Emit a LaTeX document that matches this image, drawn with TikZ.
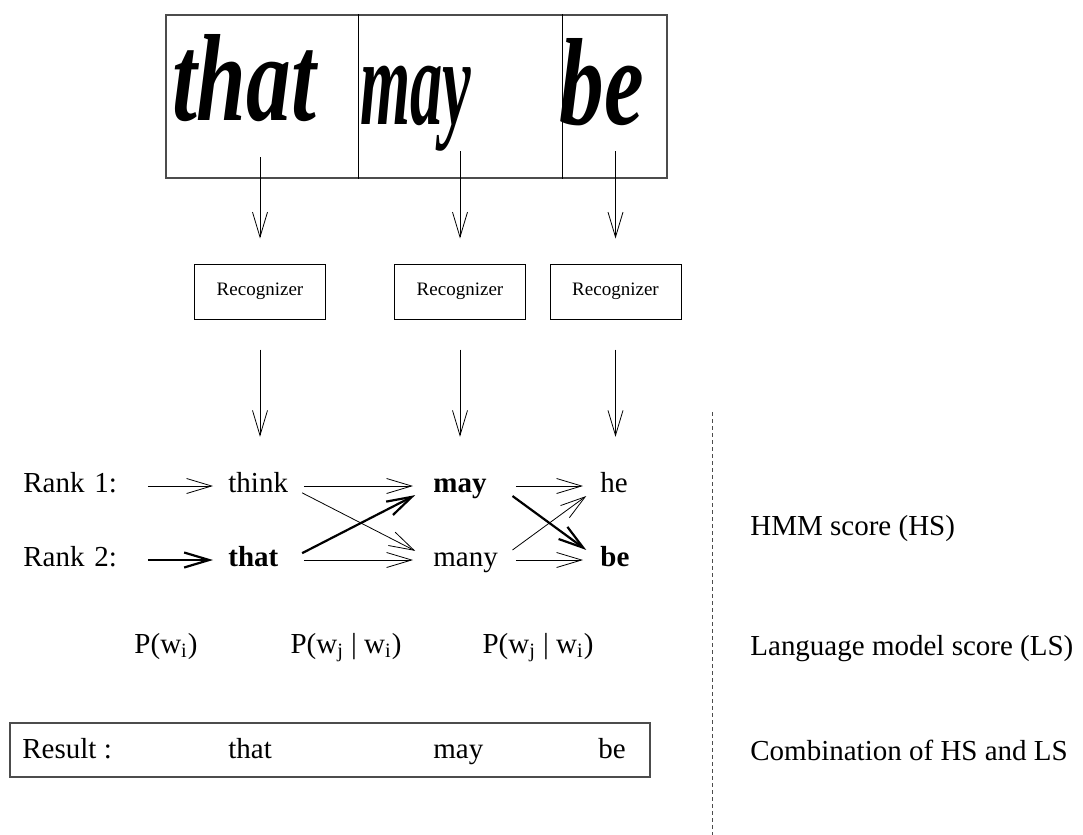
\documentclass[tikz,border=0pt]{standalone}
\usepackage{fontspec}
\setmainfont{Liberation Serif}
\usepackage{graphicx}
\usetikzlibrary{arrows.meta}

\begin{document}
\begin{tikzpicture}[x=0.5pt, y=-0.5pt,
        every node/.style = {font=\fontsize{14.5}{17}\selectfont},
        rec/.style = {draw, line width=0.5pt, minimum width=65.5pt,
          minimum height=27.5pt, font=\fontsize{9.5}{11}\selectfont},
        word/.style = {inner sep=0pt, anchor=west, text height=9.8pt,
          text depth=3pt, text width=#1, align=left},
        hand/.style = {inner sep=0pt, anchor=base,
          font=\fontsize{62}{64}\selectfont\bfseries\itshape},
        label/.style = {inner sep=0pt, anchor=base west},
        arr/.style = {-{Straight Barb[length=12.5pt,width=7.5pt]}, line width=0.4pt},
        heavy/.style = {arr, line width=1.1pt}]
  \useasboundingbox (0,0) rectangle (1083,835);

  % handwritten input
  \node[draw=black!70, line width=0.6pt, minimum width=250.5pt,
    minimum height=81.5pt, inner sep=0pt] (img) at (416.5,96.5) {};
  \coordinate (cut1) at (358,96.5);
  \coordinate (cut2) at (562,96.5);
  \draw[line width=0.5pt] (cut1 |- img.north) -- (cut1 |- img.south);
  \draw[line width=0.5pt] (cut2 |- img.north) -- (cut2 |- img.south);
  \node[hand] (hw1) at (244,120) {\scalebox{0.72}[1]{that}};
  \node[hand] (hw2) at (416,124) {\scalebox{0.52}[1]{may}};
  \node[hand] (hw3) at (602,124) {\scalebox{0.72}[1]{be}};

  % recognizers
  \node[rec] (rec1) at (260,291.5) {Recognizer};
  \node[rec] (rec2) at (460,291.5) {Recognizer};
  \node[rec] (rec3) at (615.5,291.5) {Recognizer};
  \coordinate (in1) at (260,157);
  \coordinate (in2) at (460,151);
  \coordinate (in3) at (615.5,151);
  \foreach \i in {1,2,3}
    \draw[arr, shorten >=12.5pt] (in\i) -- (rec\i.north);

  % word lattice
  \node[word=48pt] (rank1) at (23,486) {Rank 1:};
  \node[word=48pt] (rank2) at (23,560) {Rank 2:};
  \node[word=30pt] (think) at (228,486) {think};
  \node[word=30pt] (that) at (228,560) {\bfseries that};
  \node[word=32.5pt] (may) at (433,486) {\bfseries may};
  \node[word=32.5pt] (many) at (433,560) {many};
  \node[word=14.5pt] (he) at (600,486) {he};
  \node[word=14.5pt] (be) at (600,560) {\bfseries be};

  \draw[arr, shorten <=15pt, shorten >=18pt] (rec1.south) -- (rec1.south |- think.north);
  \draw[arr, shorten <=15pt, shorten >=18pt] (rec2.south) -- (rec2.south |- may.north);
  \draw[arr, shorten <=15pt, shorten >=18pt] (rec3.south) -- (rec3.south |- he.north);

  \draw[arr, shorten <=14pt, shorten >=7.5pt] (rank1) -- (think);
  \draw[heavy, shorten <=14pt, shorten >=7.5pt] (rank2) -- (that);
  \draw[arr, shorten <=7.5pt, shorten >=10pt] (think.east) -- (may.west);
  \draw[arr, shorten <=7.5pt, shorten >=10pt] (think.east) -- (many.west);
  \draw[arr, shorten <=7.5pt, shorten >=10pt] (that.east) -- (many.west);
  \draw[heavy, shorten <=7.5pt, shorten >=10pt] (that.east) -- (may.west);
  \draw[arr, shorten <=8.5pt, shorten >=8.5pt] (may.east) -- (he.west);
  \draw[arr, shorten <=8.5pt, shorten >=8.5pt] (many.east) -- (he.west);
  \draw[arr, shorten <=8.5pt, shorten >=8.5pt] (many.east) -- (be.west);
  \draw[heavy, shorten <=8.5pt, shorten >=8.5pt] (may.east) -- (be.west);

  % language model
  \node[anchor=base] (p1) at (166,653) {P(w\textsubscript{i})};
  \node[anchor=base] (p2) at (346,653) {P(w\textsubscript{j} | w\textsubscript{i})};
  \node[anchor=base] (p3) at (538,653) {P(w\textsubscript{j} | w\textsubscript{i})};

  % result
  \node[draw=black!70, line width=0.6pt, minimum width=320pt,
    minimum height=27pt, inner sep=0pt] (res) at (330,750) {};
  \node[label] (rlab) at (22,758) {Result :};
  \node[label] (r1) at (228,758) {that};
  \node[label] (r2) at (433,758) {may};
  \node[label] (r3) at (598,758) {be};

  % legend
  \coordinate (dtop) at (712,412);
  \coordinate (dbot) at (712,835);
  \draw[black!70, line width=0.5pt, dash pattern=on 2pt off 1.5pt] (dtop) -- (dbot);
  \node[label] (hs) at (750,535) {HMM score (HS)};
  \node[label] (ls) at (750,655) {Language model score (LS)};
  \node[label] (comb) at (750,760) {Combination of HS and LS};
\end{tikzpicture}
\end{document}
